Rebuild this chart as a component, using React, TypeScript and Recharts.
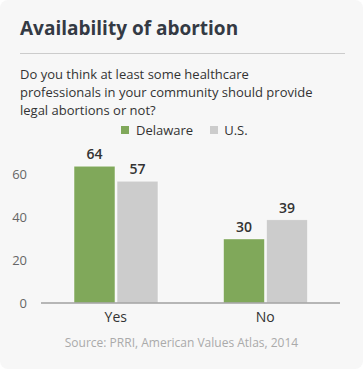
import React from 'react';
import { BarChart, XAxis, YAxis, Bar, LabelList } from 'recharts';

const categories = ['Yes', 'No'];
const delaware = [64, 30];
const us = [57, 39];
const yTicks = [0, 20, 40, 60];

const chartData = categories.map((name, i) => ({
  name,
  delaware: delaware[i],
  us: us[i],
}));

const FONT = '"Open Sans", "Noto Sans", sans-serif';
const GREEN = '#80a85a';
const GREY = '#cccccc';

const App = () => {
  return (
    <div
      style={{
        position: 'fixed', left: 0, top: 0, width: 363, height: 369,
        background: '#fff', fontFamily: FONT,
      }}
    >
      <div
        style={{
          position: 'absolute', left: 0, top: 0, width: 363, height: 369,
          background: '#f7f7f7', borderRadius: 8,
        }}
      />
      <div
        style={{
          position: 'absolute', left: 20, top: 15, fontSize: 19, fontWeight: 700,
          color: '#343a44', lineHeight: '26px', whiteSpace: 'nowrap',
        }}
      >
        Availability of abortion
      </div>
      <div style={{ position: 'absolute', left: 20, top: 53, width: 325, height: 1, background: '#cccccc' }} />
      <div
        style={{
          position: 'absolute', left: 20, top: 65, fontSize: 13,
          lineHeight: '18px', color: '#333', whiteSpace: 'nowrap',
        }}
      >
        Do you think at least some healthcare<br />
        professionals in your community should provide<br />
        legal abortions or not?
      </div>
      <div
        style={{
          position: 'absolute', left: 121, top: 121, fontSize: 13, color: '#333',
          lineHeight: '18px', display: 'flex', alignItems: 'center', whiteSpace: 'nowrap',
        }}
      >
        <span style={{ width: 8, height: 8, background: GREEN, display: 'inline-block', marginRight: 7 }} />
        <span style={{ marginRight: 17 }}>Delaware</span>
        <span style={{ width: 8, height: 8, background: GREY, display: 'inline-block', marginRight: 6 }} />
        <span>U.S.</span>
      </div>
      <div style={{ position: 'absolute', left: 0, top: 0 }}>
        <BarChart
          width={363}
          height={369}
          data={chartData}
          margin={{ top: 132, right: 23, left: 0, bottom: 36 }}
          barCategoryGap={33}
          barGap={2}
        >
          <XAxis
            dataKey="name"
            height={30}
            tickLine={false}
            axisLine={{ stroke: '#a0a0a0', strokeWidth: 1.5 }}
            tick={{ fill: '#333', fontSize: 14, fontFamily: FONT }}
            tickMargin={3}
          />
          <YAxis
            width={41}
            domain={[0, 80]}
            ticks={yTicks}
            tickLine={false}
            axisLine={false}
            tickMargin={8}
            tick={{ fill: '#666', fontSize: 13, fontFamily: FONT }}
          />
          <Bar dataKey="delaware" fill={GREEN} stroke="#ffffff" strokeOpacity={0.5} isAnimationActive={false}>
            <LabelList dataKey="delaware" position="top" offset={7} fill="#333" fontSize={14} fontWeight={600} fontFamily={FONT} />
          </Bar>
          <Bar dataKey="us" fill={GREY} stroke="#ffffff" strokeOpacity={0.5} isAnimationActive={false}>
            <LabelList dataKey="us" position="top" offset={7} fill="#333" fontSize={14} fontWeight={600} fontFamily={FONT} />
          </Bar>
        </BarChart>
      </div>
      <div
        style={{
          position: 'absolute', left: 0, width: 363, top: 334, textAlign: 'center',
          fontSize: 12, color: '#aaa', lineHeight: '18px',
        }}
      >
        Source: PRRI, American Values Atlas, 2014
      </div>
    </div>
  );
};

export default App;
